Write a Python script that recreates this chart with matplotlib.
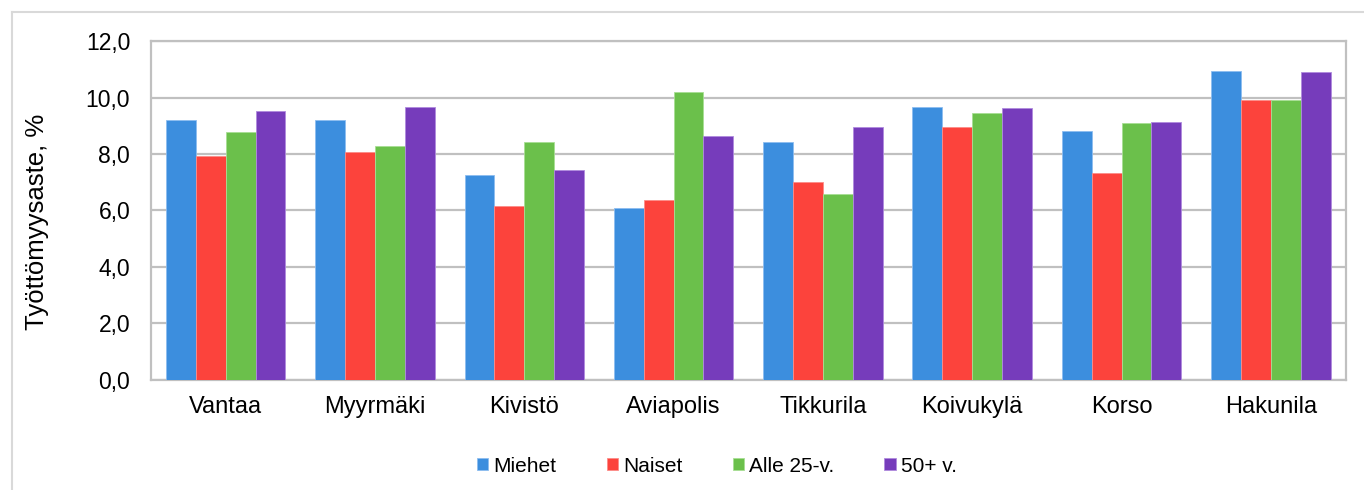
import matplotlib
matplotlib.use("Agg")
import matplotlib.pyplot as plt
import numpy as np
from matplotlib.lines import Line2D

plt.rcParams['font.family'] = ['Liberation Sans', 'DejaVu Sans']

categories = ["Vantaa", "Myyrmäki", "Kivistö", "Aviapolis", "Tikkurila", "Koivukylä", "Korso", "Hakunila"]
series_names = ["Miehet", "Naiset", "Alle 25-v.", "50+ v."]
miehet = [9.22, 9.20, 7.25, 6.09, 8.43, 9.69, 8.84, 10.95]
naiset = [7.92, 8.09, 6.15, 6.38, 7.00, 8.95, 7.32, 9.93]
alle25 = [8.77, 8.30, 8.43, 10.22, 6.60, 9.46, 9.09, 9.91]
yli50 = [9.54, 9.68, 7.43, 8.64, 8.95, 9.63, 9.14, 10.92]
colors = ["#3C8EDE", "#FC433C", "#6BC04B", "#763CBB"]
edges = ["#8DBDF0", "#FC8C88", "#A8DE94", "#B08BDE"]
yticks = [0, 2, 4, 6, 8, 10, 12]
ytick_labels = ["0,0", "2,0", "4,0", "6,0", "8,0", "10,0", "12,0"]

fig = plt.figure(figsize=(13.64, 4.90), dpi=100)
ax = fig.add_axes([151/1364, 1 - 379.5/490, (1345.5-151)/1364, (379.5-41.5)/490])

x = np.arange(len(categories))
w = 0.2
all_series = [miehet, naiset, alle25, yli50]
handles = []
for i, (vals, c, ec, name) in enumerate(zip(all_series, colors, edges, series_names)):
    b = ax.bar(x + (i - 1.5) * w, vals, width=w, color=c, edgecolor=ec, linewidth=0.6,
               label=name, zorder=3)
    handles.append(b)

ax.set_xlim(-0.5, len(categories) - 0.5)
ax.set_ylim(0, 12)
ax.set_yticks(yticks)
ax.set_yticklabels(ytick_labels)
ax.set_xticks(x)
ax.set_xticklabels(categories)
ax.tick_params(axis='y', length=0, pad=15, labelsize=16.5, colors='#000000')
ax.tick_params(axis='x', length=0, pad=12, labelsize=17, colors='#000000')
ax.grid(axis='y', color='#C0C0C0', linewidth=1.6, zorder=0)
ax.set_axisbelow(True)
for s in ax.spines.values():
    s.set_color('#C0C0C0')
    s.set_linewidth(1.6)

ax.set_ylabel("Työttömyysaste, %", fontsize=18.5)
ax.yaxis.set_label_coords((49 - 151) / (1345.5 - 151), (379.5 - 222) / 338)

leg = fig.legend(handles=handles, labels=series_names, loc='center',
                 bbox_to_anchor=(717/1364, 1 - 466/490), ncol=4, frameon=False,
                 fontsize=15, handlelength=0.55, handleheight=0.55,
                 handletextpad=0.25, columnspacing=2.4)

# outer chart border
fig.add_artist(Line2D([11.5/1364, 1.0], [1 - 12.5/490, 1 - 12.5/490],
                      transform=fig.transFigure, color='#D9D9D9', linewidth=1.5))
fig.add_artist(Line2D([11.5/1364, 11.5/1364], [0, 1 - 12.5/490],
                      transform=fig.transFigure, color='#D9D9D9', linewidth=1.5))

fig.savefig("out.png", dpi=100)
